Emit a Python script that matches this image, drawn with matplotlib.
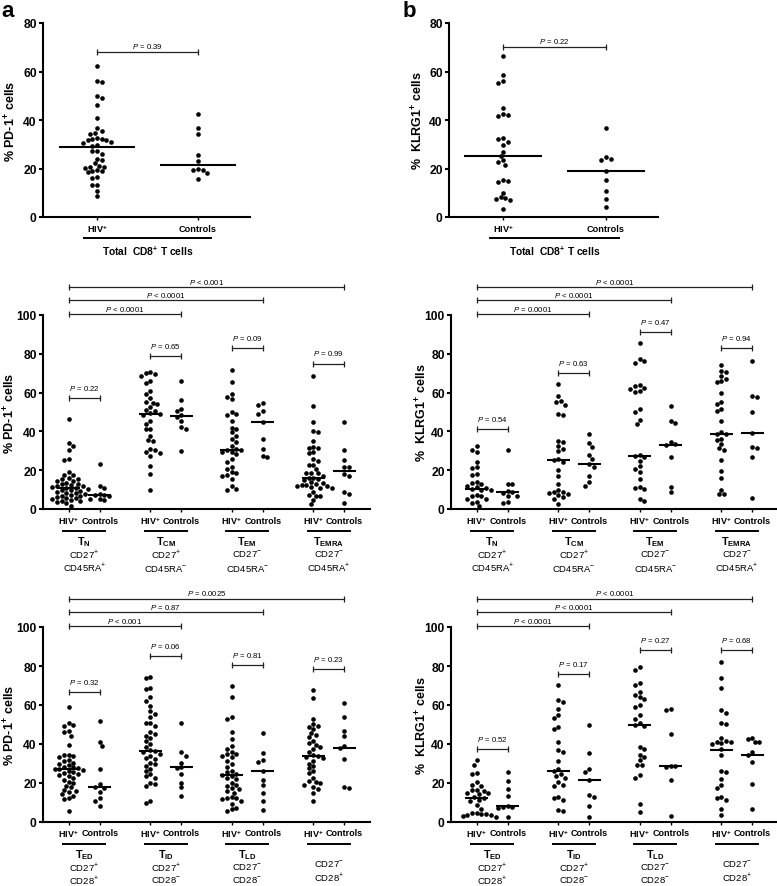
import numpy as np
import matplotlib
matplotlib.use('Agg')
import matplotlib.pyplot as plt
from matplotlib.transforms import blended_transform_factory

plt.rcParams['font.family'] = ['Liberation Sans', 'DejaVu Sans']
plt.rcParams['mathtext.fontset'] = 'custom'
plt.rcParams['mathtext.rm'] = 'Liberation Sans'
plt.rcParams['mathtext.it'] = 'Liberation Sans:italic'
plt.rcParams['mathtext.bf'] = 'Liberation Sans:bold'

# ---------------- data ----------------
# total CD8+ T cells (top row)
pd1_total_hiv = [62.4, 56.0, 55.6, 49.8, 49.1, 46.2, 40.7, 36.6, 35.3, 34.7, 34.3,
                 32.5, 32.2, 32.0, 31.8, 31.6, 30.9, 30.6, 29.5, 29.3, 27.4, 27.2,
                 26.0, 24.0, 23.4, 22.2, 21.0, 20.8, 20.6, 20.4, 19.2, 19.0, 18.9,
                 18.7, 16.7, 16.2, 13.3, 13.0, 10.6, 8.5]
pd1_total_ctl = [42.5, 36.6, 34.3, 25.7, 23.2, 19.6, 19.4, 19.2, 18.1, 15.7]
pd1_total_med = [29.0, 21.6]
pd1_total_p = '= 0.39'

klrg1_total_hiv = [66.5, 58.6, 56.2, 55.3, 44.9, 42.5, 42.1, 41.6, 32.5, 32.2, 31.1,
                   29.5, 27.0, 25.2, 23.3, 22.6, 21.5, 15.1, 14.7, 14.4, 9.9, 8.2,
                   7.8, 7.3, 7.0, 3.2]
klrg1_total_ctl = [36.6, 24.7, 24.0, 23.3, 18.8, 15.4, 10.6, 7.5, 4.1]
klrg1_total_med = [25.2, 18.9]
klrg1_total_p = '= 0.22'

# memory subsets (middle row): TN, TCM, TEM, TEMRA
mem_names = ['N', 'CM', 'EM', 'EMRA']
mem_cd27 = ['+', '+', '-', '-']
mem_cd45ra = ['+', '-', '-', '+']

pd1_mem_hiv = [
    [46.4, 34.0, 32.6, 30.4, 25.6, 25.2, 18.9, 17.6, 17.3, 15.9, 15.6, 15.3, 14.6,
     14.2, 13.6, 13.1, 12.7, 12.4, 12.0, 11.7, 11.3, 11.0, 10.7, 10.3, 9.9, 9.6,
     9.2, 8.8, 8.5, 8.1, 7.7, 7.3, 6.9, 6.6, 6.2, 5.8, 5.5, 5.1, 4.7, 4.3, 3.9,
     3.4, 2.9, 1.5],
    [70.4, 70.0, 69.6, 68.7, 66.2, 65.0, 61.0, 59.3, 57.0, 55.2, 54.6, 54.0, 52.4,
     50.8, 50.4, 49.4, 49.0, 48.6, 45.5, 43.8, 41.4, 41.0, 37.8, 35.4, 35.0, 30.9,
     30.5, 29.5, 29.0, 27.5, 22.3, 18.0, 10.0],
    [71.8, 65.3, 59.3, 57.6, 56.7, 49.8, 49.0, 48.6, 45.5, 42.0, 41.2, 39.5, 37.8,
     36.0, 34.4, 32.6, 31.0, 30.6, 30.2, 29.6, 29.2, 28.4, 25.8, 24.0, 21.5, 20.6,
     18.9, 18.6, 17.6, 17.2, 15.5, 12.0, 10.3, 10.0],
    [68.4, 53.3, 45.0, 40.4, 39.9, 34.9, 31.8, 31.5, 31.2, 29.2, 29.0, 25.8, 24.9,
     22.8, 22.6, 20.6, 18.8, 18.6, 18.4, 17.2, 16.0, 15.8, 15.5, 14.8, 13.7, 13.5,
     12.8, 12.5, 12.3, 12.0, 11.8, 11.2, 10.9, 10.6, 9.0, 7.2, 6.9, 6.6, 4.8, 2.6],
]
pd1_mem_ctl = [
    [23.2, 12.0, 10.7, 7.6, 7.3, 7.1, 6.9, 5.4, 5.0, 4.7],
    [66.2, 56.0, 51.5, 50.7, 48.5, 47.5, 45.5, 42.1, 41.2, 30.0],
    [54.5, 53.6, 50.3, 49.2, 45.0, 36.0, 31.0, 27.5, 26.6],
    [44.7, 30.6, 25.4, 21.9, 21.7, 17.8, 17.2, 8.8, 7.5, 2.9],
]
pd1_mem_med = [(10.8, 7.2), (48.8, 48.0), (30.3, 45.0), (15.8, 19.8)]
pd1_mem_pair_p = ['= 0.22', '= 0.65', '= 0.09', '= 0.99']
pd1_mem_pair_y = [57.0, 79.0, 83.0, 75.0]
pd1_mem_long_p = ['< 0.0001', '< 0.0001', '< 0.001']

klrg1_mem_hiv = [
    [32.6, 30.6, 29.5, 24.1, 21.5, 21.0, 18.0, 17.5, 13.7, 13.2, 12.7, 11.6, 11.2,
     10.9, 10.3, 10.0, 9.7, 7.2, 6.9, 6.6, 5.4, 5.0, 3.6, 3.2, 1.4],
    [64.4, 58.0, 55.6, 55.0, 53.8, 49.2, 48.6, 35.2, 34.6, 32.6, 31.0, 30.0, 26.0,
     25.4, 24.4, 20.0, 17.2, 12.9, 9.6, 9.0, 8.6, 8.0, 7.5, 7.0, 6.0, 5.2, 2.6],
    [85.5, 77.5, 76.5, 75.5, 64.0, 63.2, 62.4, 61.8, 61.0, 60.5, 51.5, 49.8, 46.0,
     43.8, 27.6, 27.3, 26.6, 25.0, 22.3, 20.6, 18.9, 15.5, 11.2, 11.0, 10.3, 5.0, 4.0],
    [74.0, 71.3, 70.4, 68.7, 67.2, 66.2, 65.6, 59.8, 55.0, 54.1, 51.5, 50.7, 45.5,
     39.5, 38.9, 38.5, 36.0, 35.7, 33.5, 31.2, 30.6, 25.4, 19.4, 15.8, 10.0, 7.7, 7.5],
]
klrg1_mem_ctl = [
    [30.6, 13.1, 12.7, 9.2, 8.9, 8.5, 6.9, 6.7, 3.6, 3.2],
    [38.7, 34.0, 31.8, 28.0, 25.8, 23.0, 21.5, 16.8, 13.7, 11.7],
    [53.3, 45.5, 44.3, 34.4, 33.5, 33.0, 26.6, 11.2, 8.6],
    [76.5, 58.0, 57.6, 49.8, 39.2, 32.2, 31.6, 26.6, 5.8],
]
klrg1_mem_med = [(10.3, 8.7), (25.5, 23.0), (27.3, 33.0), (38.7, 39.0)]
klrg1_mem_pair_p = ['= 0.54', '= 0.63', '= 0.47', '= 0.94']
klrg1_mem_pair_y = [41.0, 70.0, 91.0, 83.0]
klrg1_mem_long_p = ['= 0.0001', '< 0.0001', '< 0.0001']

# differentiation subsets (bottom row): TED, TID, TLD, CD27-CD28+
diff_names = ['ED', 'ID', 'LD', None]
diff_cd27 = ['+', '+', '-', '-']
diff_cd28 = ['+', '-', '-', '+']

pd1_diff_hiv = [
    [58.8, 50.6, 50.0, 49.4, 46.6, 46.0, 44.3, 39.6, 34.6, 34.2, 33.6, 33.2, 32.0,
     31.4, 30.5, 29.8, 29.0, 28.4, 28.0, 27.6, 27.2, 27.0, 26.6, 26.0, 25.4, 25.0,
     24.4, 24.0, 23.5, 22.8, 21.5, 20.6, 20.2, 18.5, 17.7, 16.4, 16.0, 15.3, 14.2,
     13.4, 12.5, 11.7, 5.7],
    [74.3, 74.0, 68.5, 68.0, 64.0, 62.3, 59.7, 57.1, 55.4, 53.7, 51.0, 50.6, 49.4,
     46.0, 45.0, 44.3, 43.0, 41.7, 40.0, 38.3, 37.0, 36.5, 36.0, 35.0, 34.0, 33.0,
     32.2, 30.5, 29.5, 28.8, 27.1, 26.0, 24.5, 23.5, 22.5, 20.2, 19.5, 18.5, 10.8, 9.9],
    [69.6, 64.0, 53.7, 52.8, 46.0, 42.5, 39.1, 37.4, 35.7, 35.0, 34.8, 33.6, 33.1,
     31.4, 29.7, 28.0, 26.0, 25.4, 24.5, 24.0, 23.5, 22.8, 22.0, 20.2, 19.0, 18.5,
     17.5, 16.8, 15.8, 15.1, 13.0, 12.5, 12.2, 11.7, 11.0, 9.1, 7.4, 6.5, 5.7],
    [67.8, 63.5, 52.8, 50.3, 49.4, 48.5, 47.7, 45.5, 44.8, 43.4, 41.7, 40.5, 39.5,
     38.6, 37.4, 35.7, 34.5, 33.8, 33.4, 33.0, 31.4, 30.0, 28.8, 27.5, 26.2, 25.0,
     22.8, 21.1, 20.5, 19.9, 19.2, 18.0, 16.8, 15.1, 10.8],
]
pd1_diff_ctl = [
    [51.8, 41.2, 39.1, 27.1, 19.4, 17.8, 17.4, 15.6, 12.5, 10.8, 8.2],
    [50.8, 36.0, 34.0, 30.5, 28.0, 27.5, 24.5, 20.2, 17.7, 13.4],
    [45.6, 35.3, 32.0, 31.0, 26.0, 21.4, 18.9, 15.1, 10.8, 6.2],
    [61.0, 53.7, 46.8, 44.3, 38.8, 37.8, 32.2, 17.8, 17.2],
]
pd1_diff_med = [(27.0, 17.8), (36.5, 28.0), (24.0, 26.0), (33.6, 38.0)]
pd1_diff_pair_p = ['= 0.32', '= 0.06', '= 0.81', '= 0.23']
pd1_diff_pair_y = [66.6, 85.0, 80.6, 78.6]
pd1_diff_long_p = ['< 0.001', '= 0.87', '= 0.0025']

klrg1_diff_hiv = [
    [31.8, 29.4, 25.2, 24.8, 20.4, 18.8, 18.4, 16.6, 16.3, 16.1, 14.9, 14.7, 14.4,
     12.8, 12.5, 11.3, 11.0, 8.7, 6.7, 4.7, 4.4, 4.2, 3.9, 3.6, 3.4, 3.0, 2.4],
    [70.4, 62.4, 61.5, 57.8, 55.0, 53.3, 48.7, 47.9, 41.0, 36.8, 35.9, 31.1, 27.0,
     26.2, 24.8, 23.4, 22.8, 20.5, 19.0, 18.6, 12.8, 12.4, 11.1, 6.0, 5.5],
    [79.5, 77.8, 71.5, 70.1, 66.7, 65.0, 64.1, 62.9, 59.8, 59.0, 54.7, 53.0, 50.9,
     49.8, 49.4, 38.5, 37.6, 34.2, 33.3, 31.6, 29.4, 29.1, 23.9, 22.8, 9.4, 5.1],
    [82.0, 73.8, 68.7, 57.3, 56.1, 50.9, 50.2, 43.1, 41.6, 41.2, 40.8, 40.4, 40.0,
     37.2, 34.2, 26.3, 25.8, 22.2, 18.8, 17.4, 12.8, 12.4, 11.1, 6.8, 3.4],
]
klrg1_diff_ctl = [
    [25.5, 21.2, 16.9, 13.2, 8.0, 7.8, 7.5, 7.2, 2.7],
    [49.6, 35.6, 27.4, 25.6, 21.6, 14.0, 12.8, 8.0, 2.6],
    [57.8, 57.3, 45.3, 28.9, 28.6, 28.2, 21.4, 3.1],
    [43.1, 42.4, 41.0, 40.8, 35.9, 34.5, 30.8, 19.7, 6.8],
]
klrg1_diff_med = [(12.5, 8.0), (26.0, 21.6), (49.6, 28.6), (37.0, 34.5)]
klrg1_diff_pair_p = ['= 0.52', '= 0.17', '= 0.27', '= 0.68']
klrg1_diff_pair_y = [37.3, 75.7, 88.0, 88.0]
klrg1_diff_long_p = ['< 0.0001', '< 0.0001', '< 0.0001']

long_bracket_y = [100.5, 107.5, 114.4]

HIV = 'HIV$^{\\mathbf{+}}$'
PD1_LABEL = '% PD-1$^{\\mathbf{+}}$ cells'
KLRG1_LABEL = '%  KLRG1$^{\\mathbf{+}}$ cells'

# ---------------- layout ----------------
W, H = 777, 887
fig = plt.figure(figsize=(W / 100, H / 100), dpi=100)
PAIR = 2.63  # distance between subset pairs (x units)


def fy(y):
    return 1 - y / H


def add_ax(l, t, r, b):
    return fig.add_axes([l / W, 1 - b / H, (r - l) / W, (b - t) / H])


def swarm(vals, ppx, ppy, d=4.7):
    vals = np.sort(np.asarray(vals, float))[::-1]
    steps = [0.0]
    for k in range(1, 30):
        steps += [k * d * 0.5, -k * d * 0.5]
    placed, xs = [], []
    for n, v in enumerate(vals):
        y = v * ppy
        for s in steps:
            s2 = s if n % 2 == 0 else -s
            if all((s2 - a) ** 2 + (y - b) ** 2 >= d * d for a, b in placed):
                break
        placed.append((s2, y))
        xs.append(s2 / ppx)
    return np.array(xs), vals


def style(ax, xlim, ymax, ylabel, lab_x):
    ax.set_xlim(*xlim)
    ax.set_ylim(0, ymax)
    ax.set_yticks(np.arange(0, ymax + 1, 20))
    ax.spines['top'].set_visible(False)
    ax.spines['right'].set_visible(False)
    ax.spines['left'].set_linewidth(1.5)
    ax.spines['bottom'].set_linewidth(1.5)
    ax.tick_params(axis='y', length=3, width=1.5, pad=1.5, labelsize=8.7)
    ax.tick_params(axis='x', length=2.5, width=1.0, labelbottom=False)
    for t in ax.get_yticklabels():
        t.set_fontweight('bold')
    pos = ax.get_position()
    fig.text(lab_x / W, pos.y0 + pos.height / 2, ylabel, rotation=90,
             ha='center', va='center', fontsize=9, fontweight='bold')


def dots(ax, x0, vals, med, half=0.37):
    ppx = ax.bbox.width / np.diff(ax.get_xlim())[0]
    ppy = ax.bbox.height / np.diff(ax.get_ylim())[0]
    off, v = swarm(vals, ppx, ppy)
    ax.scatter(x0 + off, v, s=11, c='k', linewidths=0, zorder=3, clip_on=False)
    ax.hlines(med, x0 - half, x0 + half, color='k', lw=1.5, zorder=4)


def bracket(ax, x1, x2, y, txt, gap):
    ax.plot([x1, x2], [y, y], color='#222222', lw=0.9, marker='|',
            markersize=4, mew=0.9, clip_on=False)
    ax.annotate('$P$ ' + txt, ((x1 + x2) / 2, y), xytext=(0, gap),
                textcoords='offset pixels', ha='center', va='bottom',
                fontsize=5.6, annotation_clip=False)


def top_panel(l, r, xlim, hiv, ctl, med, p, p_y, ylabel, lab_x):
    ax = add_ax(l, 24, r, 218)
    style(ax, xlim, 80, ylabel, lab_x)
    ax.set_xticks([0, 1])
    dots(ax, 0, hiv, med[0], 0.38)
    dots(ax, 1, ctl, med[1], 0.38)
    bracket(ax, 0, 1, p_y, p, 1.5)
    tr = blended_transform_factory(ax.transData, fig.transFigure)
    for x, s in zip([0, 1], [HIV, 'Controls']):
        ax.text(x, fy(229), s, transform=tr, ha='center', va='center',
                fontsize=6.6, fontweight='bold')
    ax.plot([0.5 - 0.63, 0.5 + 0.63], [fy(239)] * 2, transform=tr,
            color='k', lw=1.4, clip_on=False)
    ax.text(0.5, fy(251), 'Total  CD8$^{\\mathbf{+}}$ T cells', transform=tr,
            ha='center', va='center', fontsize=7.4, fontweight='bold')


def subset_panel(l, t, b, hiv, ctl, med, pair_p, pair_y, long_p, ylabel,
                 lab_x, names, m1, m2, m2name, rows):
    ax = add_ax(l, t, l + 327, b)
    style(ax, (-0.83, 9.72), 100, ylabel, lab_x)
    xs_h = [i * PAIR for i in range(4)]
    ax.set_xticks(xs_h + [x + 1 for x in xs_h])
    for i in range(4):
        dots(ax, xs_h[i], hiv[i], med[i][0])
        dots(ax, xs_h[i] + 1, ctl[i], med[i][1])
        bracket(ax, xs_h[i], xs_h[i] + 1, pair_y[i], pair_p[i], 6)
    for k in range(3):
        bracket(ax, 0, xs_h[k + 1] + 1, long_bracket_y[k], long_p[k], 1.5)
    tr = blended_transform_factory(ax.transData, fig.transFigure)
    r_lab, r_line, r_t, r_1, r_2 = rows
    for i in range(4):
        c = xs_h[i] + 0.5
        ax.text(xs_h[i], fy(r_lab), HIV, transform=tr, ha='center',
                va='center', fontsize=6.5, fontweight='bold')
        ax.text(xs_h[i] + 1, fy(r_lab), 'Controls', transform=tr,
                ha='center', va='center', fontsize=6.5, fontweight='bold')
        ax.plot([c - 0.68, c + 0.68], [fy(r_line)] * 2, transform=tr,
                color='k', lw=1.4, clip_on=False)
        shift = 0
        if names[i] is not None:
            ax.text(c, fy(r_t), '$\\mathbf{T}_{\\mathbf{%s}}$' % names[i],
                    transform=tr, ha='center', va='center', fontsize=7.8)
        else:
            shift = 3
        ax.text(c, fy(r_1 - shift), 'CD27$^{%s}$' % m1[i], transform=tr,
                ha='center', va='center', fontsize=6.8)
        ax.text(c, fy(r_2 - shift), '%s$^{%s}$' % (m2name, m2[i]),
                transform=tr, ha='center', va='center', fontsize=6.8)


top_panel(43, 250, (-0.535, 1.515), pd1_total_hiv, pd1_total_ctl,
          pd1_total_med, pd1_total_p, 68.2, PD1_LABEL, 11)
top_panel(449, 658, (-0.524, 1.505), klrg1_total_hiv, klrg1_total_ctl,
          klrg1_total_med, klrg1_total_p, 70.2, KLRG1_LABEL, 418)

mem_rows = (521, 532, 542, 555, 568)
diff_rows = (834, 845, 855, 868, 880.5)

subset_panel(43, 316, 510, pd1_mem_hiv, pd1_mem_ctl, pd1_mem_med,
             pd1_mem_pair_p, pd1_mem_pair_y, pd1_mem_long_p, PD1_LABEL, 10,
             mem_names, mem_cd27, mem_cd45ra, 'CD45RA', mem_rows)
subset_panel(451, 316, 510, klrg1_mem_hiv, klrg1_mem_ctl, klrg1_mem_med,
             klrg1_mem_pair_p, klrg1_mem_pair_y, klrg1_mem_long_p, KLRG1_LABEL,
             422, mem_names, mem_cd27, mem_cd45ra, 'CD45RA', mem_rows)
subset_panel(43, 628, 823, pd1_diff_hiv, pd1_diff_ctl, pd1_diff_med,
             pd1_diff_pair_p, pd1_diff_pair_y, pd1_diff_long_p, PD1_LABEL, 10,
             diff_names, diff_cd27, diff_cd28, 'CD28', diff_rows)
subset_panel(451, 628, 823, klrg1_diff_hiv, klrg1_diff_ctl, klrg1_diff_med,
             klrg1_diff_pair_p, klrg1_diff_pair_y, klrg1_diff_long_p, KLRG1_LABEL,
             422, diff_names, diff_cd27, diff_cd28, 'CD28', diff_rows)

fig.text(1 / W, fy(17), 'a', fontsize=16, fontweight='bold', va='baseline')
fig.text(403 / W, fy(17), 'b', fontsize=16, fontweight='bold', va='baseline')

fig.savefig('out.png', dpi=100)
